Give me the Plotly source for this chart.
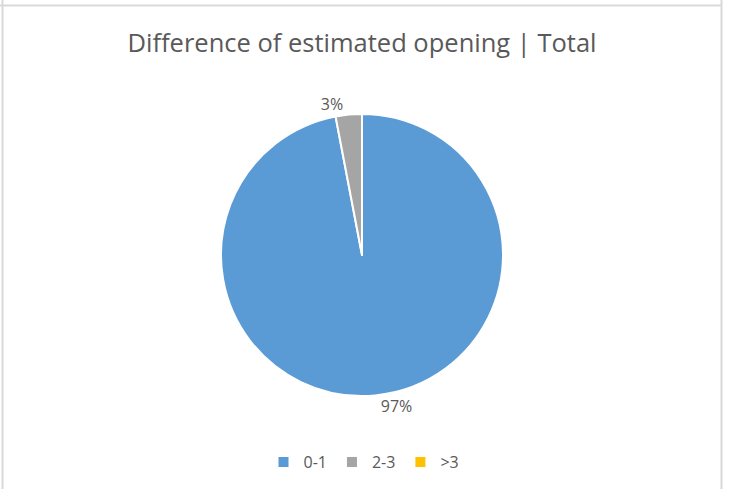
import plotly.graph_objects as go

categories = ["0-1", "2-3", ">3"]
values = [97, 3, 0]
colors = ["#5B9BD5", "#A5A5A5", "#FFC000"]
title_text = "Difference of estimated opening | Total"

W, H = 729, 489
cx, cy, r = 362, 255, 141

fig = go.Figure(go.Pie(
    labels=categories,
    values=values,
    sort=False,
    direction="clockwise",
    rotation=0,
    marker=dict(colors=colors, line=dict(color="white", width=2)),
    texttemplate=["%{percent:.0%}", "%{percent:.0%}", ""],
    textposition="outside",
    textfont=dict(family="Open Sans", size=16, color="#595959"),
    domain=dict(x=[(cx - r) / W, (cx + r) / W], y=[1 - (cy + r) / H, 1 - (cy - r) / H]),
    hoverinfo="label+percent",
    showlegend=True,
))

line_col = "#D9D9D9"
shapes = [
    dict(type="line", xref="paper", yref="paper", x0=2.5 / W, x1=2.5 / W, y0=0, y1=1,
         line=dict(color=line_col, width=2)),
    dict(type="line", xref="paper", yref="paper", x0=721.5 / W, x1=721.5 / W, y0=0, y1=1,
         line=dict(color=line_col, width=2)),
    dict(type="line", xref="paper", yref="paper", x0=0, x1=722 / W, y0=1 - 5.5 / H, y1=1 - 5.5 / H,
         line=dict(color=line_col, width=2)),
]

fig.update_layout(
    width=W, height=H,
    margin=dict(l=0, r=0, t=0, b=0),
    paper_bgcolor="white",
    plot_bgcolor="white",
    title=dict(text=title_text, x=362 / W, xanchor="center", y=1 - 43 / H, yanchor="middle",
               font=dict(family="Open Sans", size=25.5, color="#595959")),
    legend=dict(orientation="h", x=364 / W, xanchor="center", y=1 - 462 / H, yanchor="middle",
                font=dict(family="Open Sans", size=16, color="#595959"), traceorder="normal",
                itemwidth=30),
    shapes=shapes,
)

fig.write_html("out.html", config={"displayModeBar": False},
               post_script="document.body.style.margin='0';document.body.style.padding='0';")
